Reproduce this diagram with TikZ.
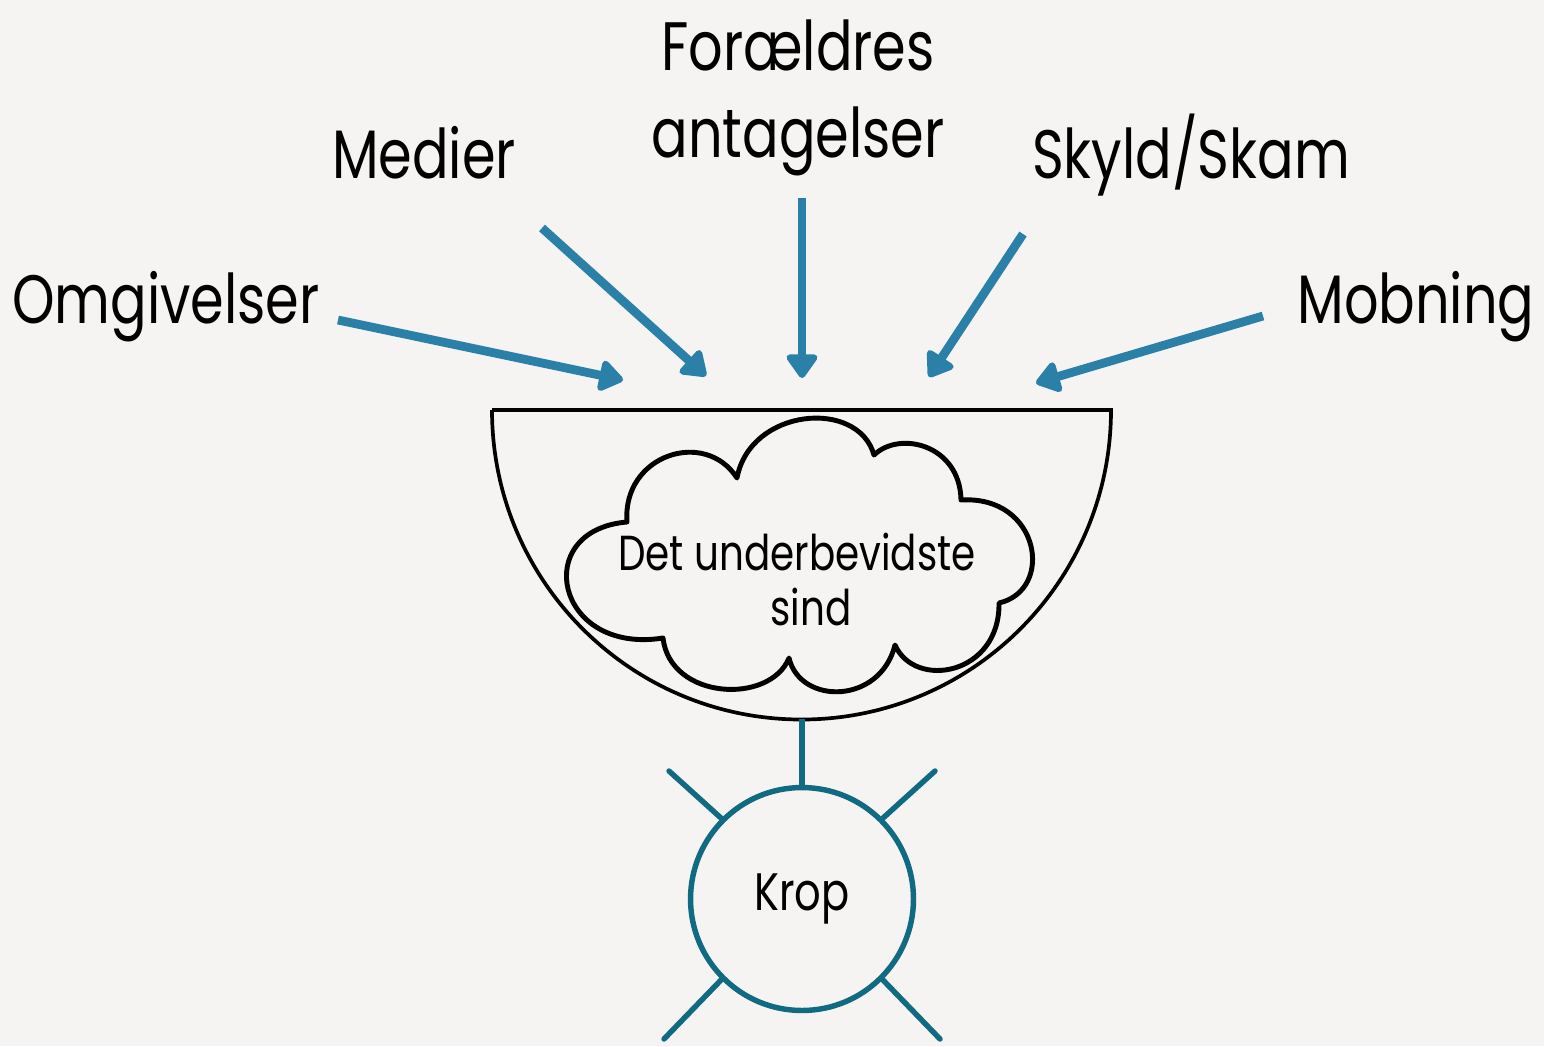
\documentclass[tikz,border=0pt]{standalone}
\usepackage{fontspec}
\setmainfont{Poppins}[FakeStretch=0.79]
\usetikzlibrary{arrows.meta}
\definecolor{bgc}{RGB}{245,244,242}
\definecolor{arrowblue}{RGB}{42,128,167}
\definecolor{tealc}{RGB}{16,106,130}
\begin{document}
\begin{tikzpicture}[x=0.02cm,y=-0.02cm,
  biglabel/.style={font=\fontsize{39}{47}\selectfont, anchor=base, inner sep=0pt},
  cloudtext/.style={font=\fontsize{28}{33}\selectfont, anchor=base, inner sep=0pt},
  inarrow/.style={draw=arrowblue, line width=5pt, -{Triangle[length=15pt,width=20pt,round]}},
  cloudline/.style={draw=black, line width=2.8pt, line join=round},
  bowlline/.style={draw=black, line width=2.1pt},
  tealline/.style={draw=tealc, line width=3.1pt, line cap=round},
  bodycircle/.style={circle, draw=tealc, line width=3.1pt, minimum size=4.46cm, inner sep=0pt, font=\fontsize{30}{36}\selectfont}
]
% background and bounds
\fill[bgc] (0,0) rectangle (1544,1046);
\useasboundingbox (0,0) rectangle (1544,1046);

% labels
\node[biglabel] (omg) at (166,323) {Omgivelser};
\node[biglabel] (med) at (424,178) {Medier};
\node[biglabel] (forA) at (798,70) {Forældres};
\node[biglabel] (forB) at (798,157) {antagelser};
\node[biglabel] (skyld) at (1191,178) {Skyld/Skam};
\node[biglabel] (mob) at (1416,323) {Mobning};

% arrow end points
\coordinate (s1) at (338,320);  \coordinate (t1) at (623,380);
\coordinate (s2) at (542,228);  \coordinate (t2) at (706,376);
\coordinate (s3) at (802,198);  \coordinate (t3) at (802,378);
\coordinate (s4) at (1023,234); \coordinate (t4) at (929,377);
\coordinate (s5) at (1263,316); \coordinate (t5) at (1036,383);
\draw[inarrow] (s1) -- (t1);
\draw[inarrow] (s2) -- (t2);
\draw[inarrow] (s3) -- (t3);
\draw[inarrow] (s4) -- (t4);
\draw[inarrow] (s5) -- (t5);

% bowl
\draw[bowlline] (492,410) -- (1111,410) arc[start angle=0, end angle=180, radius=309.5] -- cycle;
\draw[draw=black, line width=2.7pt] (492,410) -- (1111,410);
\coordinate (bowlbottom) at (802,719);

% cloud
\draw[cloudline] (627,522) .. controls (622,455) and (705,428) .. (737,478)
  .. controls (750,408) and (858,398) .. (874,455)
  .. controls (900,430) and (960,445) .. (961,500)
  .. controls (1040,495) and (1055,590) .. (999,603)
  .. controls (1000,675) and (915,690) .. (895,645)
  .. controls (880,705) and (800,705) .. (789,658)
  .. controls (770,705) and (670,700) .. (663,638)
  .. controls (555,655) and (530,530) .. cycle;
\node[cloudtext] (mindA) at (797,570) {Det underbevidste};
\node[cloudtext] (mindB) at (811,625) {sind};

% body
\node[bodycircle] (krop) at (802,899) {Krop};
\draw[tealline, line cap=butt] (bowlbottom) -- (krop.north);
\coordinate (rul) at (669,771);
\coordinate (rur) at (935,771);
\coordinate (rll) at (664,1039);
\coordinate (rlr) at (940,1039);
\draw[tealline] (krop.135) -- (rul);
\draw[tealline] (krop.45) -- (rur);
\draw[tealline] (krop.-135) -- (rll);
\draw[tealline] (krop.-45) -- (rlr);
\end{tikzpicture}
\end{document}
